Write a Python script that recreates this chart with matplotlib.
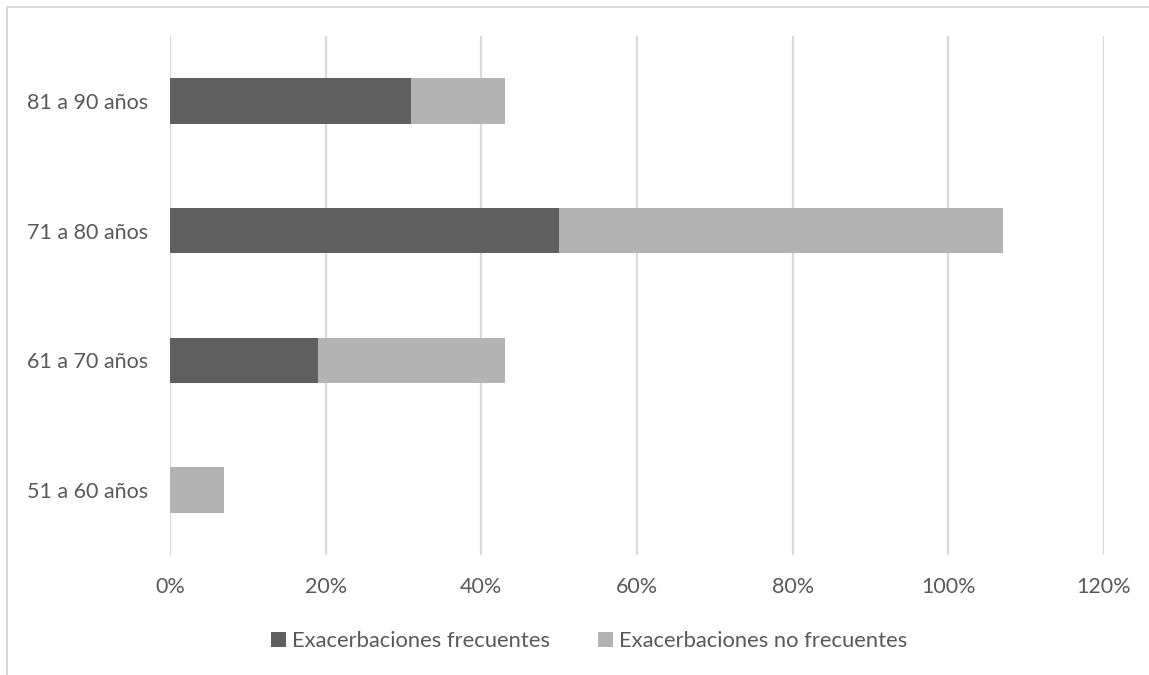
import matplotlib
matplotlib.use("Agg")
import matplotlib.pyplot as plt
from matplotlib.patches import Rectangle
from matplotlib.ticker import FuncFormatter

# Age groups and percentage of patients per exacerbation type
age_groups = ["51 a 60 años", "61 a 70 años", "71 a 80 años", "81 a 90 años"]
frecuentes = [0, 19, 50, 31]
no_frecuentes = [7, 24, 57, 12]
series_names = ["Exacerbaciones frecuentes", "Exacerbaciones no frecuentes"]

DARK = "#5f5f5f"
LIGHT = "#b3b3b3"
TEXT = "#595959"
GRID = "#d9d9d9"

plt.rcParams["font.family"] = ["Lato", "DejaVu Sans"]

fig = plt.figure(figsize=(11.49, 6.75), dpi=100)
ax = fig.add_axes([170 / 1149, 1 - 555 / 675, (1104 - 170) / 1149, (555 - 36) / 675])

y = range(len(age_groups))
ax.barh(y, frecuentes, height=0.35, color=DARK, label=series_names[0], zorder=3)
ax.barh(y, no_frecuentes, left=frecuentes, height=0.35, color=LIGHT,
        label=series_names[1], zorder=3)

ax.set_xlim(0, 120)
ax.set_ylim(-0.5, 3.5)
ax.set_xticks(range(0, 121, 20))
ax.xaxis.set_major_formatter(FuncFormatter(lambda v, _: f"{int(v)}%"))
ax.set_yticks(list(y))
ax.set_yticklabels(age_groups)

ax.grid(axis="x", color=GRID, linewidth=1.6, zorder=0)
for side in ax.spines.values():
    side.set_visible(False)
ax.tick_params(axis="both", length=0, labelsize=15.5, labelcolor=TEXT)
ax.tick_params(axis="x", pad=16)
ax.tick_params(axis="y", pad=16)

leg = fig.legend(loc="center", bbox_to_anchor=(589 / 1149, 1 - 641 / 675), ncol=2,
                 frameon=False, fontsize=15.8, handlelength=0.7, handleheight=0.7,
                 handletextpad=0.25, columnspacing=2.2)
for t in leg.get_texts():
    t.set_color(TEXT)

# light chart frame (left and top edges)
fig.add_artist(Rectangle((7 / 1149, -0.1), 1.2, (1 - 7 / 675) + 0.1,
                         transform=fig.transFigure, fill=False,
                         edgecolor=GRID, linewidth=1.5))

fig.savefig("out.png", dpi=100)
